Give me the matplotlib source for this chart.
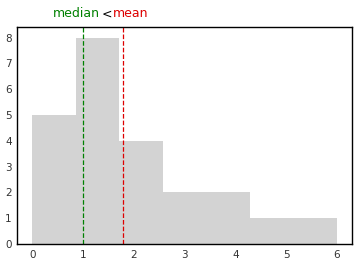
import matplotlib
matplotlib.use("Agg")
import matplotlib.pyplot as plt
import numpy as np

bin_edges = [0, 6/7, 12/7, 18/7, 24/7, 30/7, 36/7, 6]
counts = [5, 8, 4, 2, 2, 1, 1]
median_val = 1.0
mean_val = 1.78
xticks = [0, 1, 2, 3, 4, 5, 6]
yticks = [0, 1, 2, 3, 4, 5, 6, 7, 8]

plt.rcParams['font.family'] = ['DejaVu Sans']
fig = plt.figure(figsize=(3.59, 2.65), dpi=100)
ax = fig.add_axes([0.048, 0.079, 0.933, 0.818])
edges = np.array(bin_edges)
ax.bar(edges[:-1], counts, width=np.diff(edges), align='edge', color='lightgray', linewidth=0)
ax.axvline(median_val, color='green', linestyle='--', linewidth=0.9)
ax.axvline(mean_val, color='#dd0000', linestyle='--', linewidth=0.9)
ax.set_xlim(-0.3, 6.3)
ax.set_ylim(0, 8.4)
ax.set_xticks(xticks)
ax.set_yticks(yticks)
ax.tick_params(labelsize=7.5, length=0, colors='#333333', pad=4)
for s in ax.spines.values():
    s.set_color('black')
    s.set_linewidth(1.0)

fs = 9
ty = 0.935
t1 = fig.text(0.147, ty, 'median', color='green', fontsize=fs)
fig.canvas.draw()
r = fig.canvas.get_renderer()
bb = t1.get_window_extent(r)
t2 = fig.text(bb.x1 / fig.bbox.width + 0.004, ty, '<', color='black', fontsize=fs)
bb2 = t2.get_window_extent(r)
t3 = fig.text(bb2.x1 / fig.bbox.width + 0.004, ty, 'mean', color='#dd0000', fontsize=fs)

fig.savefig('out.png', dpi=100)
